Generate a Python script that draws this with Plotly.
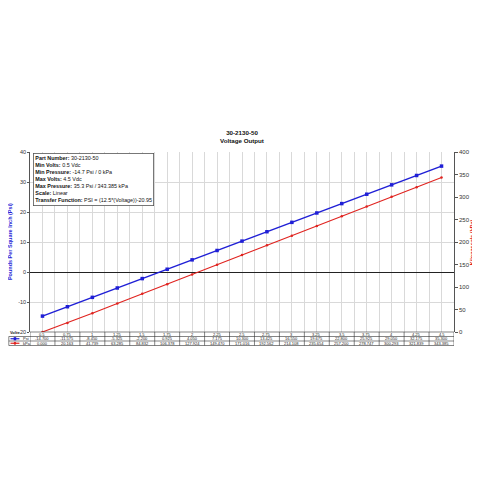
import plotly.graph_objects as go

volts = [0.5, 0.75, 1, 1.25, 1.5, 1.75, 2, 2.25, 2.5, 2.75, 3, 3.25, 3.5, 3.75, 4, 4.25, 4.5]
volt_labels = ["0.5", "0.75", "1", "1.25", "1.5", "1.75", "2", "2.25", "2.5", "2.75",
               "3", "3.25", "3.5", "3.75", "4", "4.25", "4.5"]
psi = [-14.700, -11.575, -8.450, -5.325, -2.200, 0.925, 4.050, 7.175, 10.300, 13.425,
       16.550, 19.675, 22.800, 25.925, 29.050, 32.175, 35.300]
kpa = [0.000, 20.163, 41.739, 63.285, 84.832, 106.378, 127.924, 149.470, 171.016, 192.562,
       214.108, 235.654, 257.200, 278.747, 300.293, 321.839, 343.385]
psi_ticks = [-20, -10, 0, 10, 20, 30, 40]
psi_tick_labels = ["-20", "-10", "0", "10", "20", "30", "40"]

info_lines = [
    ("Part Number:", "30-2130-50"),
    ("Min Volts:", "0.5 Vdc"),
    ("Min Pressure:", "-14.7 Psi / 0 kPa"),
    ("Max Volts:", "4.5 Vdc"),
    ("Max Pressure:", "35.3 Psi / 343.385 kPa"),
    ("Scale:", "Linear"),
    ("Transfer Function:", "PSI = (12.5*(Voltage))-20.95"),
]

BLUE = "#1f1fd6"
RED = "#e0231f"
FONT = "Liberation Sans, Arial, sans-serif"

fig = go.Figure()
fig.add_trace(go.Scatter(
    x=volts, y=psi, name="Psi", mode="lines+markers",
    line=dict(color=BLUE, width=1.5),
    marker=dict(symbol="square", size=3.5, color=BLUE),
))
fig.add_trace(go.Scatter(
    x=volts, y=kpa, name="kPa", mode="lines+markers", yaxis="y2",
    line=dict(color=RED, width=1.1),
    marker=dict(symbol="circle", size=2.5, color=RED),
))

half = (volts[1] - volts[0]) / 2
x_lo, x_hi = volts[0] - half, volts[-1] + half

# data table under the plot
row_h = 0.025
rows = [volt_labels, [f"{v:.3f}" for v in psi], [f"{v:.3f}" for v in kpa]]
annotations = []
shapes = []
for r, labels in enumerate(rows):
    yc = -row_h * (r + 0.5)
    for v, t in zip(volts, labels):
        annotations.append(dict(x=v, y=yc, xref="x", yref="paper", text=t,
                                showarrow=False, font=dict(size=4, color="#222"),
                                xanchor="center", yanchor="middle"))
for k in range(4):
    shapes.append(dict(type="line", xref="paper", yref="paper",
                       x0=0 if k == 0 else -0.05, x1=1,
                       y0=-row_h * k, y1=-row_h * k,
                       line=dict(color="#333", width=0.6)))
for v in [x_lo] + [x + half for x in volts]:
    shapes.append(dict(type="line", xref="x", yref="paper", x0=v, x1=v,
                       y0=0, y1=-row_h * 3, line=dict(color="#333", width=0.6)))
shapes.append(dict(type="line", xref="paper", yref="paper", x0=-0.05, x1=-0.05,
                   y0=-row_h, y1=-row_h * 3, line=dict(color="#333", width=0.6)))

# legend keys inside the table
for r, (name, col, sym) in enumerate([("Psi", BLUE, "square"), ("kPa", RED, "circle")]):
    yc = -row_h * (r + 1.5)
    shapes.append(dict(type="line", xref="paper", yref="paper", x0=-0.046, x1=-0.025,
                       y0=yc, y1=yc, line=dict(color=col, width=1.2)))
    shapes.append(dict(type="rect" if sym == "square" else "circle", xref="paper", yref="paper",
                       x0=-0.0385, x1=-0.0325, y0=yc - 0.009, y1=yc + 0.009,
                       fillcolor=col, line=dict(width=0)))
    annotations.append(dict(x=-0.022, y=yc, xref="paper", yref="paper", text=name,
                            showarrow=False, font=dict(size=4, color="#222"),
                            xanchor="left", yanchor="middle"))

annotations.append(dict(x=-0.052, y=-0.004, xref="paper", yref="paper", text="<b>Volts</b>",
                        showarrow=False, font=dict(size=4, color="#111"),
                        xanchor="left", yanchor="middle"))

# axis titles
annotations.append(dict(x=-0.047, y=0.5, xref="paper", yref="paper",
                        text="<b>Pounds Per Square Inch (Psi)</b>", textangle=-90,
                        showarrow=False, font=dict(size=5.5, color=BLUE),
                        xanchor="center", yanchor="middle"))
annotations.append(dict(x=1.043, y=0.5, xref="paper", yref="paper",
                        text="<b>Kilopascals (kPa)</b>", textangle=-90,
                        showarrow=False, font=dict(size=5.5, color=RED),
                        xanchor="center", yanchor="middle"))

info_text = "<br>".join(f"<b>{k}</b> {v}" for k, v in info_lines)
annotations.append(dict(x=0.007, y=0.995, xref="paper", yref="paper", text=info_text,
                        showarrow=False, align="left", xanchor="left", yanchor="top",
                        font=dict(size=5.4, color="#111"), bgcolor="white",
                        bordercolor="#555", borderwidth=0.8, borderpad=1.5))

# the page puts the figure 8px in from the top-left corner, so margins are shifted
fig.update_layout(
    width=480, height=480,
    margin=dict(l=22, r=34, t=144, b=156, autoexpand=False),
    paper_bgcolor="white", plot_bgcolor="white",
    font=dict(family=FONT, size=6, color="#333"),
    showlegend=False,
    title=dict(text="<b>30-2130-50<br>Voltage Output</b>", x=0.4875, xanchor="center",
               y=0.735, yanchor="middle", font=dict(size=6.2, color="#111")),
    xaxis=dict(range=[x_lo, x_hi], tick0=x_lo, dtick=half, showticklabels=False,
               showgrid=True, gridcolor="#d9d9d9", gridwidth=0.6, zeroline=False,
               showline=False, ticks="", automargin=False),
    yaxis=dict(range=[-20, 40], tickmode="array", tickvals=psi_ticks, ticktext=psi_tick_labels,
               showgrid=True, gridcolor="#d9d9d9", gridwidth=0.6,
               zeroline=True, zerolinecolor="#222", zerolinewidth=0.8,
               showline=True, linecolor="#555", linewidth=0.6, ticks="outside",
               ticklen=2, tickcolor="#555", tickfont=dict(size=5.5, color="#333"),
               automargin=False),
    yaxis2=dict(range=[0, 400], dtick=50, overlaying="y", side="right", showgrid=False,
                zeroline=False, showline=True, linecolor="#555", linewidth=0.6,
                ticks="outside", ticklen=3, tickcolor="#555",
                tickfont=dict(size=6, color="#333"), automargin=False),
    shapes=shapes,
    annotations=annotations,
)

fig.write_html("out.html")
